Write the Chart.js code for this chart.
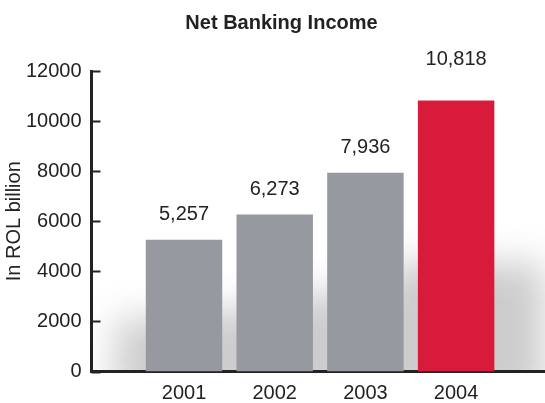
<!DOCTYPE html>
<html>
<head>
<meta charset="utf-8">
<title>Net Banking Income</title>
<script src="https://cdn.jsdelivr.net/npm/chart.js@4"></script>
<style>
    html, body { margin: 0; padding: 0; background: #ffffff; }
    canvas { display: block; }
</style>
</head>
<body>
<canvas id="chart" width="545" height="403"></canvas>
<script>
// values
const chartTitle = 'Net Banking Income';
const yAxisTitle = 'In ROL billion';
const years = ['2001', '2002', '2003', '2004'];
const income = [5257, 6273, 7936, 10818];

// styling
const barColors = ['#96999f', '#96999f', '#96999f', '#d91b3b'];
const labelLift = [25, 25, 25, 41];
const ink = '#222222';
const fontFamily = '"Liberation Sans", Arial, Helvetica, sans-serif';

Chart.defaults.font.family = fontFamily;
Chart.defaults.font.size = 20;
Chart.defaults.color = ink;

// soft grey shadow cast behind the bars
const barShadow = {
    id: 'barShadow',
    beforeDatasetsDraw(chart) {
        const { ctx, chartArea: a } = chart;
        const bars = chart.getDatasetMeta(0).data;
        ctx.save();
        ctx.beginPath();
        ctx.rect(a.left, a.top, a.right - a.left, a.bottom - a.top);
        ctx.clip();
        ctx.filter = 'blur(18px)';
        ctx.fillStyle = 'rgba(40, 40, 40, 0.24)';
        ctx.beginPath();
        bars.forEach(b => {
            const h = (b.base - b.y) * 0.4;
            ctx.rect(b.x - b.width / 2 - 30, b.base - h, b.width + 80, h + 30);
        });
        ctx.fill();
        ctx.restore();
    }
};

// tick marks on the y axis point into the plot
const inwardTicks = {
    id: 'inwardTicks',
    afterDraw(chart) {
        const { ctx, chartArea: a } = chart;
        const y = chart.scales.y;
        ctx.save();
        ctx.strokeStyle = ink;
        ctx.lineWidth = 2;
        y.ticks.forEach(t => {
            const py = Math.round(y.getPixelForValue(t.value)) + 0.5;
            ctx.beginPath();
            ctx.moveTo(a.left, py);
            ctx.lineTo(a.left + 9, py);
            ctx.stroke();
        });
        ctx.restore();
    }
};

// value labels above each bar
const valueLabels = {
    id: 'valueLabels',
    afterDatasetsDraw(chart) {
        const { ctx } = chart;
        ctx.save();
        ctx.font = '20px ' + fontFamily;
        ctx.fillStyle = ink;
        ctx.textAlign = 'center';
        ctx.textBaseline = 'middle';
        chart.getDatasetMeta(0).data.forEach((b, i) => {
            ctx.fillText(income[i].toLocaleString('en-US'), b.x, b.y - labelLift[i]);
        });
        ctx.restore();
    }
};

// title sits a bit left of the canvas centre in the original
const chartHeading = {
    id: 'chartHeading',
    afterDraw(chart) {
        const { ctx } = chart;
        ctx.save();
        ctx.font = 'bold 20px ' + fontFamily;
        ctx.fillStyle = ink;
        ctx.textAlign = 'center';
        ctx.textBaseline = 'alphabetic';
        ctx.fillText(chartTitle, 281.5, 29);
        ctx.restore();
    }
};

new Chart(document.getElementById('chart').getContext('2d'), {
    type: 'bar',
    data: {
        datasets: [{
            data: years.map((_, i) => ({ x: i + 1, y: income[i] })),
            backgroundColor: barColors,
            borderWidth: 0,
            categoryPercentage: 1,
            barPercentage: 0.843
        }]
    },
    options: {
        responsive: false,
        animation: false,
        layout: { padding: { top: 71, right: 0, bottom: 0, left: 0 } },
        plugins: {
            legend: { display: false },
            tooltip: { enabled: false }
        },
        scales: {
            x: {
                type: 'linear',
                min: -0.02,
                max: 4.98,
                offset: false,
                afterBuildTicks: scale => {
                    scale.ticks = years.map((_, i) => ({ value: i + 1 }));
                },
                afterFit: scale => { scale.height = 31.5; },
                ticks: {
                    callback: v => years[v - 1],
                    padding: 9.5,
                    maxRotation: 0,
                    autoSkip: false
                },
                grid: { display: false, drawTicks: false },
                border: { color: ink, width: 3 }
            },
            y: {
                min: 0,
                max: 12000,
                afterFit: scale => { scale.width = 91.5; },
                ticks: {
                    stepSize: 2000,
                    padding: 10,
                    callback: v => String(v)
                },
                grid: { display: false, drawTicks: false },
                border: { color: ink, width: 3 },
                title: {
                    display: true,
                    text: yAxisTitle,
                    padding: { top: 2, bottom: 0 }
                }
            }
        }
    },
    plugins: [barShadow, valueLabels, inwardTicks, chartHeading]
});
</script>
</body>
</html>
